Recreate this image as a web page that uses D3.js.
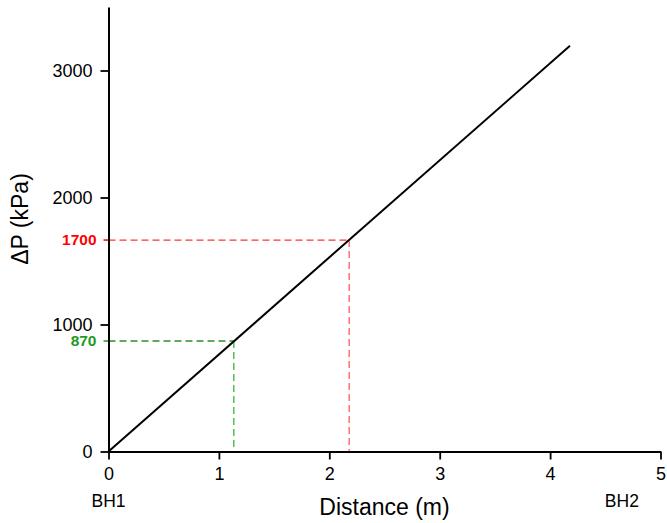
<!DOCTYPE html>
<html><head><meta charset="utf-8">
<script src="https://cdn.jsdelivr.net/npm/d3@7"></script>
<style>
body{margin:0;background:#fff;}
text{font-family:"Liberation Sans",Arial,sans-serif;}
</style>
</head><body>
<svg id="c" width="667" height="523"></svg>
<script>
// data
const lineX = [0, 4.18];
const lineY = [0, 3195];
const refX = [1.135, 2.18];
const refY = [870, 1665];
const refLabels = ["870", "1700"];
const refTextColors = ["#1f9a1f", "#ff0000"];
const refHColors = ["#2e8b2e", "#ff3333"];
const refVColors = ["#33b833", "#ff5a5a"];
const xMajor = [0, 1, 2, 3, 4, 5];
const xMinor = [0.5, 1.5, 2.5, 3.5, 4.5];
const yMajor = [0, 1000, 2000, 3000];
const yMinor = [500, 1500, 2500, 3500];
const endLabels = ["BH1", "BH2"];
const endLabelX = [0, 4.65];

const svg = d3.select("#c");
const x = d3.scaleLinear().domain([0, 5]).range([108.5, 660.5]);
const y = d3.scaleLinear().domain([0, 3500]).range([451.5, 7]);

// reference dashed lines
const refs = refX.map((d, i) => ({x: d, y: refY[i], label: refLabels[i], i}));
refs.forEach(r => {
  svg.append("line").attr("x1", x(0) - 5).attr("x2", x(0))
    .attr("y1", y(r.y)).attr("y2", y(r.y))
    .attr("stroke", refTextColors[r.i]).attr("stroke-width", 1.5);
  svg.append("line").attr("x1", x(0)).attr("x2", x(r.x))
    .attr("y1", y(r.y)).attr("y2", y(r.y))
    .attr("stroke", refHColors[r.i]).attr("stroke-width", 1.3)
    .attr("stroke-dasharray", "7,4");
  svg.append("line").attr("x1", x(r.x)).attr("x2", x(r.x))
    .attr("y1", y(r.y)).attr("y2", y(0))
    .attr("stroke", refVColors[r.i]).attr("stroke-width", 1.3)
    .attr("stroke-dasharray", "7,4");
  svg.append("text").attr("x", x(0) - 12).attr("y", y(r.y)).attr("dy", "0.35em")
    .attr("text-anchor", "end").attr("font-size", 15.5).attr("font-weight", "bold")
    .attr("fill", refTextColors[r.i]).text(r.label);
});

// main line
const pts = lineX.map((d, i) => [d, lineY[i]]);
svg.append("path").datum(pts)
  .attr("d", d3.line().x(d => x(d[0])).y(d => y(d[1])))
  .attr("fill", "none").attr("stroke", "#000").attr("stroke-width", 2);

// axes
const fs = 18;
const gx = svg.append("g").attr("transform", `translate(0,${y(0)})`);
gx.call(d3.axisBottom(x).tickValues(xMinor).tickSize(4).tickSizeOuter(0).tickFormat(""));
gx.call(d3.axisBottom(x).tickValues(xMajor).tickSize(8).tickSizeOuter(0).tickPadding(8).tickFormat(d3.format("d")));
const gy = svg.append("g").attr("transform", `translate(${x(0)},0)`);
gy.call(d3.axisLeft(y).tickValues(yMinor).tickSize(4).tickSizeOuter(0).tickFormat(""));
gy.call(d3.axisLeft(y).tickValues(yMajor).tickSize(8).tickSizeOuter(0).tickPadding(8).tickFormat(d3.format("d")));
svg.selectAll(".domain").attr("stroke-width", 2);
svg.selectAll(".tick line").attr("stroke-width", 1.8);
svg.selectAll(".tick text").attr("font-size", fs).attr("font-family", "Liberation Sans, Arial, sans-serif").attr("fill", "#000");

// end labels
endLabels.forEach((t, i) => {
  svg.append("text").attr("x", x(endLabelX[i])).attr("y", 506.5)
    .attr("text-anchor", "middle").attr("font-size", 17.5).text(t);
});

// titles
svg.append("text").attr("x", (x(0) + x(5)) / 2).attr("y", 515)
  .attr("text-anchor", "middle").attr("font-size", 23).text("Distance (m)");
svg.append("text").attr("transform", "translate(27.5,219) rotate(-90)")
  .attr("text-anchor", "middle").attr("font-size", 23).text("ΔP (kPa)");
</script>
</body></html>
